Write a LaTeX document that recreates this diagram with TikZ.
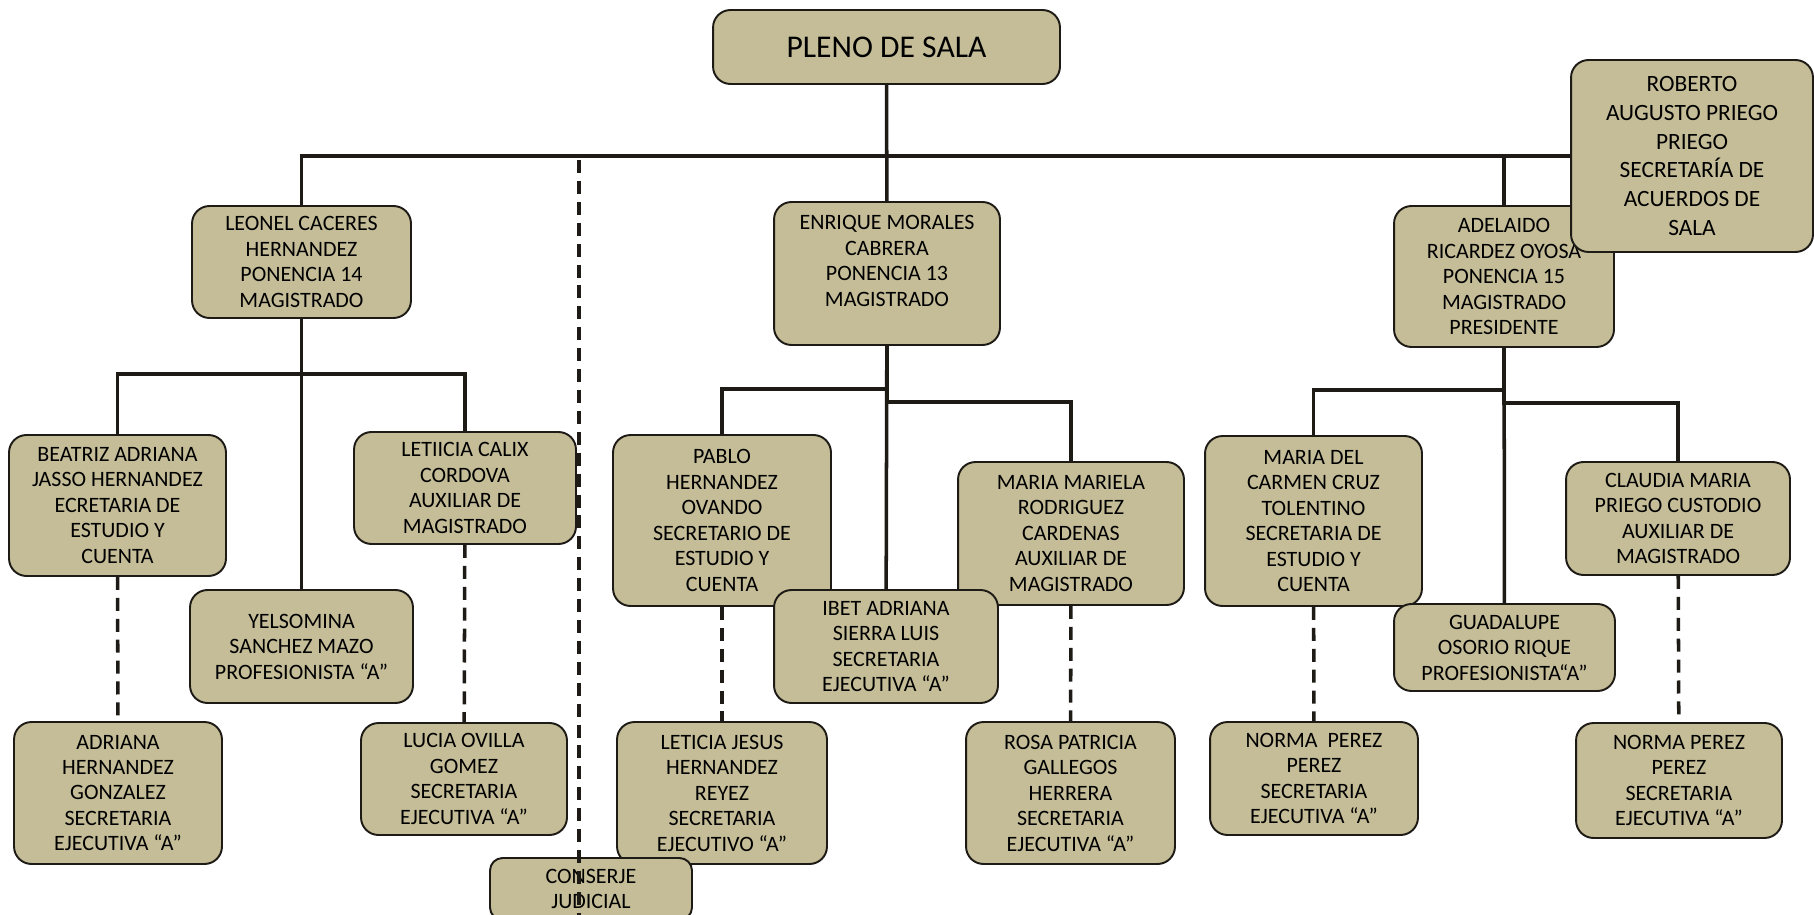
\documentclass[tikz,border=0pt]{standalone}
\usepackage{fontspec}
\setmainfont{Carlito}
\definecolor{caqui}{HTML}{C4BD97}
\definecolor{tinta}{HTML}{1E1B16}
\tikzset{
  cargo/.style={draw=tinta,fill=caqui,line width=1.1pt,rounded corners=0.35cm,align=center,inner sep=0pt,font=\fontsize{12.5}{14.5}\selectfont},
  linea/.style={draw=tinta,line width=2pt},
  punteada/.style={draw=tinta,line width=2pt,dash pattern=on 7.4pt off 4.5pt}
}
\begin{document}
\begin{tikzpicture}[x=0.02cm,y=-0.02cm]
        \useasboundingbox(0,0)rectangle(1814,915);
        % magistrados
        \node[cargo,minimum width=6.94cm,minimum height=1.48cm,font=\fontsize{18}{21}\selectfont](pleno)at(886.5,47){PLENO DE SALA};
        \node[cargo,minimum width=4.38cm,minimum height=2.24cm](leonel)at(301.5,262){LEONEL CACERES\\HERNANDEZ\\PONENCIA 14\\MAGISTRADO};
        \node[cargo,minimum width=4.52cm,minimum height=2.86cm](enrique)at(887,273.5){ENRIQUE MORALES\\CABRERA\\PONENCIA 13\\MAGISTRADO\\ \mbox{}};
        \node[cargo,minimum width=4.40cm,minimum height=2.82cm](adelaido)at(1504,276.5){ADELAIDO\\RICARDEZ OYOSA\\PONENCIA 15\\MAGISTRADO\\PRESIDENTE};
        \node[cargo,minimum width=4.84cm,minimum height=3.84cm,font=\fontsize{13.3}{16.3}\selectfont](roberto)at(1692,156){ROBERTO\\AUGUSTO PRIEGO\\PRIEGO\\SECRETARÍA DE\\ACUERDOS DE\\SALA};
        % ponencia 14
        \node[cargo,minimum width=4.34cm,minimum height=2.82cm](beatriz)at(117.5,505.5){BEATRIZ ADRIANA\\JASSO HERNANDEZ\\ECRETARIA DE\\ESTUDIO Y\\CUENTA};
        \node[cargo,minimum width=4.44cm,minimum height=2.24cm](letiicia)at(465,488){LETIICIA CALIX\\CORDOVA\\AUXILIAR DE\\MAGISTRADO};
        \node[cargo,minimum width=4.46cm,minimum height=2.26cm](yelsomina)at(301.5,646.5){YELSOMINA\\SANCHEZ MAZO\\PROFESIONISTA “A”};
        \node[cargo,minimum width=4.16cm,minimum height=2.84cm](adriana)at(118,793){ADRIANA\\HERNANDEZ\\GONZALEZ\\SECRETARIA\\EJECUTIVA “A”};
        \node[cargo,minimum width=4.12cm,minimum height=2.24cm](lucia)at(464,779){LUCIA OVILLA\\GOMEZ\\SECRETARIA\\EJECUTIVA “A”};
        % ponencia 13
        \node[cargo,minimum width=4.36cm,minimum height=3.42cm](pablo)at(722,520.5){PABLO\\HERNANDEZ\\OVANDO\\SECRETARIO DE\\ESTUDIO Y\\CUENTA};
        \node[cargo,minimum width=4.52cm,minimum height=2.86cm](mariela)at(1071,533.5){MARIA MARIELA\\RODRIGUEZ\\CARDENAS\\AUXILIAR DE\\MAGISTRADO};
        \node[cargo,minimum width=4.48cm,minimum height=2.26cm](ibet)at(886,646.5){IBET ADRIANA\\SIERRA LUIS\\SECRETARIA\\EJECUTIVA “A”};
        \node[cargo,minimum width=4.20cm,minimum height=2.84cm](leticia)at(722,793){LETICIA JESUS\\HERNANDEZ\\REYEZ\\SECRETARIA\\EJECUTIVO “A”};
        \node[cargo,minimum width=4.18cm,minimum height=2.84cm](rosa)at(1070.5,793){ROSA PATRICIA\\GALLEGOS\\HERRERA\\SECRETARIA\\EJECUTIVA “A”};
        % ponencia 15
        \node[cargo,minimum width=4.34cm,minimum height=3.40cm](carmen)at(1313.5,521){MARIA DEL\\CARMEN CRUZ\\TOLENTINO\\SECRETARIA DE\\ESTUDIO Y\\CUENTA};
        \node[cargo,minimum width=4.48cm,minimum height=2.26cm](claudia)at(1678,518.5){CLAUDIA MARIA\\PRIEGO CUSTODIO\\AUXILIAR DE\\MAGISTRADO};
        \node[cargo,minimum width=4.42cm,minimum height=1.74cm](guadalupe)at(1504.5,647.5){GUADALUPE\\OSORIO RIQUE\\PROFESIONISTA“A”};
        \node[cargo,minimum width=4.16cm,minimum height=2.26cm](normaA)at(1314,778.5){NORMA\ \ PEREZ\\PEREZ\\SECRETARIA\\EJECUTIVA “A”};
        \node[cargo,minimum width=4.12cm,minimum height=2.30cm](normaB)at(1679,780.5){NORMA PEREZ\\PEREZ\\SECRETARIA\\EJECUTIVA “A”};
        \node[cargo,minimum width=4.04cm,minimum height=1.24cm,rounded corners=0.25cm](conserje)at(591,889){CONSERJE\\JUDICIAL};
        % lineas
        \draw[linea](pleno)--(enrique);
        \draw[linea](leonel.north)|-(roberto.west);
        \draw[linea](adelaido.north)--(adelaido.north|-roberto.west);
        \draw[linea](leonel)--(yelsomina);
        \draw[linea](beatriz.north)--++(0,-60)-|(letiicia.north);
        \draw[linea](enrique)--(ibet);
        \draw[linea](pablo.north)--++(0,-45)-|(enrique.south);
        \draw[linea](mariela.north)--++(0,-59)-|(enrique.south);
        \draw[linea](adelaido)--(guadalupe);
        \draw[linea](carmen.north)--++(0,-45)-|(adelaido.south);
        \draw[linea](claudia.north)--++(0,-58)-|(adelaido.south);
        \draw[punteada](beatriz)--(adriana);
        \draw[punteada](letiicia)--(lucia);
        \draw[punteada](pablo)--(leticia);
        \draw[punteada](mariela)--(rosa);
        \draw[punteada](carmen)--(normaA);
        \draw[punteada](claudia)--(normaB);
        \coordinate(cjtop)at(579,160);
        \draw[punteada](cjtop)--(cjtop|-conserje.south);
    \end{tikzpicture}
\end{document}
